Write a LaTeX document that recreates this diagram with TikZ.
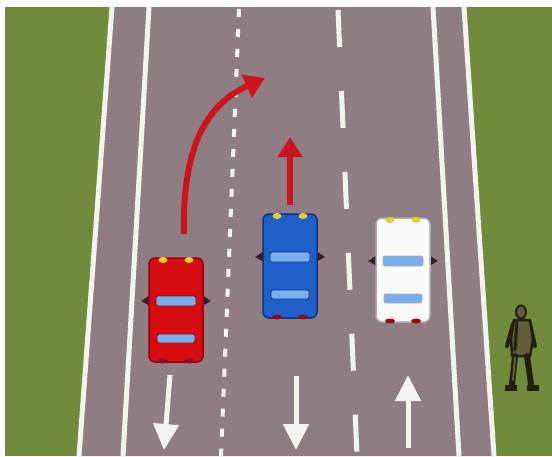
\documentclass[tikz,border=0pt]{standalone}
\usetikzlibrary{arrows.meta}
\definecolor{grass}{RGB}{112,139,60}
\definecolor{asphalt}{RGB}{142,126,132}
\definecolor{paint}{RGB}{244,244,238}
\definecolor{redcar}{RGB}{214,12,16}
\definecolor{redrim}{RGB}{150,0,10}
\definecolor{bluecar}{RGB}{30,95,200}
\definecolor{bluerim}{RGB}{20,50,130}
\definecolor{whitecar}{RGB}{250,250,250}
\definecolor{whiterim}{RGB}{170,170,175}
\definecolor{glass}{RGB}{120,175,235}
\definecolor{lamp}{RGB}{225,210,40}
\definecolor{taillamp}{RGB}{150,10,20}
\definecolor{mirror}{RGB}{60,30,40}
\definecolor{turnred}{RGB}{205,20,30}
\definecolor{figdark}{RGB}{35,30,18}
\definecolor{figlight}{RGB}{100,92,58}
\tikzset{
  edgeline/.style={paint, line width=5pt},
  lanedash/.style={paint, line width=5pt, dash pattern=on 37pt off 44pt},
  lanedots/.style={paint, line width=4pt, dash pattern=on 8pt off 12pt},
  turnarrow/.style={turnred, line width=6pt, -{Triangle[length=20pt,width=24pt]}},
  lanearrow/.style={paint, line width=5pt, -{Triangle[length=26pt,width=25pt]}},
  pics/car/.style n args={3}{code={
    % side mirrors
    \fill[mirror] (-35,-9) -- (-26,-15) -- (26,-15) -- (35,-9) -- (26,-4) -- (-26,-4) -- cycle;
    % body
    \filldraw[fill=#1, draw=#2, line width=1.5pt, rounded corners=6pt] (-27,-52) rectangle (27,52);
    % lights
    \fill[lamp] (-13,-50) ellipse (4.5 and 3);
    \fill[lamp] (13,-50) ellipse (4.5 and 3);
    \fill[taillamp] (-13,51) ellipse (5 and 2.5);
    \fill[taillamp] (13,51) ellipse (5 and 2.5);
    % windows
    \filldraw[fill=glass, draw=#2, line width=0.8pt, rounded corners=2pt] (-20,-14) rectangle (20,-4);
    \filldraw[fill=glass, draw=#2, line width=0.8pt, rounded corners=2pt] (-19,24) rectangle (19,33);
  }}
}
\begin{document}
\begin{tikzpicture}[x=1pt,y=-1pt]
\useasboundingbox (0,0) rectangle (552,456);
\fill[white] (0,0) rectangle (552,456);
\fill[grass] (5,7) rectangle (552,456);
% carriageway
\fill[asphalt] (112,7) -- (464,7) -- (494,456) -- (79,456) -- cycle;
% road markings
\draw[edgeline] (112,7) -- (79,456);
\draw[edgeline] (464,7) -- (494,456);
\draw[edgeline] (149,7) -- (123,456);
\draw[edgeline] (433,7) -- (459,456);
\draw[lanedots] (239,9) -- (221,456);
\draw[lanedash] (338,10) -- (357,456);
% lane arrows
\draw[lanearrow] (170,375) -- (164,450);
\draw[lanearrow] (296,376) -- (296,450);
\draw[lanearrow] (408,448) -- (408,375);
% cars
\pic at (176,310) {car={redcar}{redrim}{lamp}};
\pic at (290,266) {car={bluecar}{bluerim}{lamp}};
\pic at (403,270) {car={whitecar}{whiterim}{lamp}};
% manoeuvre arrows
\draw[turnarrow] (184,234) .. controls (182,150) and (205,105) .. (265,78);
\draw[turnarrow] (290,205) -- (290,137);
% pedestrian
\begin{scope}[line join=round, line cap=round]
  \draw[figdark, line width=4pt] (513,324) -- (507,346);
  \draw[figdark, line width=4pt] (530,324) -- (535,346);
  \filldraw[fill=figlight, draw=figdark, line width=2.5pt] (514,320) -- (530,320) -- (533,340) -- (530,356) -- (512,356) -- (511,338) -- cycle;
  \draw[figdark, line width=3pt] (517,322) -- (515,350);
  \draw[figdark, line width=6pt] (515,356) -- (512,384);
  \draw[figdark, line width=6pt] (527,356) -- (531,384);
  \draw[figlight, line width=2pt] (515,358) -- (513,380);
  \fill[figdark] (505,385) rectangle (517,391);
  \fill[figdark] (527,385) rectangle (539,391);
  \filldraw[fill=figlight, draw=figdark, line width=2pt] (521,312) ellipse (5 and 6.5);
\end{scope}
\end{tikzpicture}
\end{document}
